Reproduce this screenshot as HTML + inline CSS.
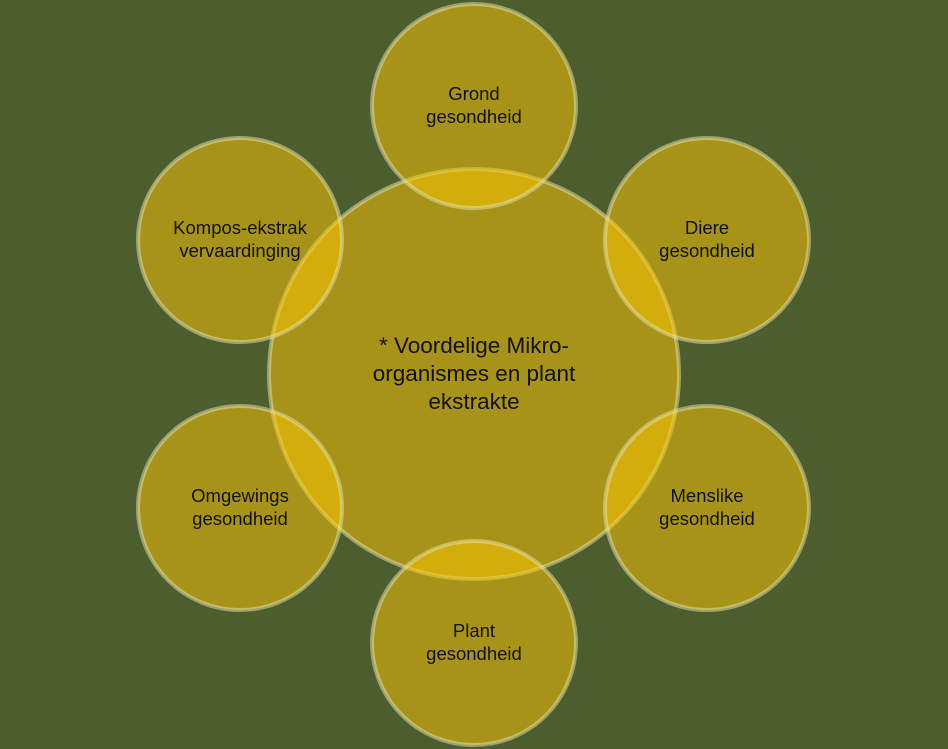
<!DOCTYPE html>
<html><head><meta charset="utf-8"><style>
html,body{margin:0;padding:0;background:#4d5e2e;}
svg{display:block}
text{font-family:"Liberation Sans",sans-serif;fill:#111;text-anchor:middle}
</style></head><body>
<svg width="948" height="749" viewBox="0 0 948 749" xmlns="http://www.w3.org/2000/svg">
<rect width="948" height="749" fill="#4d5e2e"/>
<g fill="rgb(255,200,0)" fill-opacity="0.5" stroke="#e8e6b0" stroke-opacity="0.5" stroke-width="4">
<circle cx="474" cy="374" r="205"/>
<circle cx="474" cy="106" r="102"/>
<circle cx="707" cy="240" r="102"/>
<circle cx="240" cy="240" r="102"/>
<circle cx="240" cy="508" r="102"/>
<circle cx="707" cy="508" r="102"/>
<circle cx="474" cy="643" r="102"/>
</g>
<g font-size="18.5">
<text x="474" y="100">Grond</text><text x="474" y="123">gesondheid</text>
<text x="707" y="234">Diere</text><text x="707" y="257">gesondheid</text>
<text x="240" y="234">Kompos-ekstrak</text><text x="240" y="257">vervaardinging</text>
<text x="240" y="502">Omgewings</text><text x="240" y="525">gesondheid</text>
<text x="707" y="502">Menslike</text><text x="707" y="525">gesondheid</text>
<text x="474" y="637">Plant</text><text x="474" y="660">gesondheid</text>
</g>
<g font-size="22.5">
<text x="474" y="353">* Voordelige Mikro-</text>
<text x="474" y="381">organismes en plant</text>
<text x="474" y="409">ekstrakte</text>
</g>
</svg>
</body></html>
